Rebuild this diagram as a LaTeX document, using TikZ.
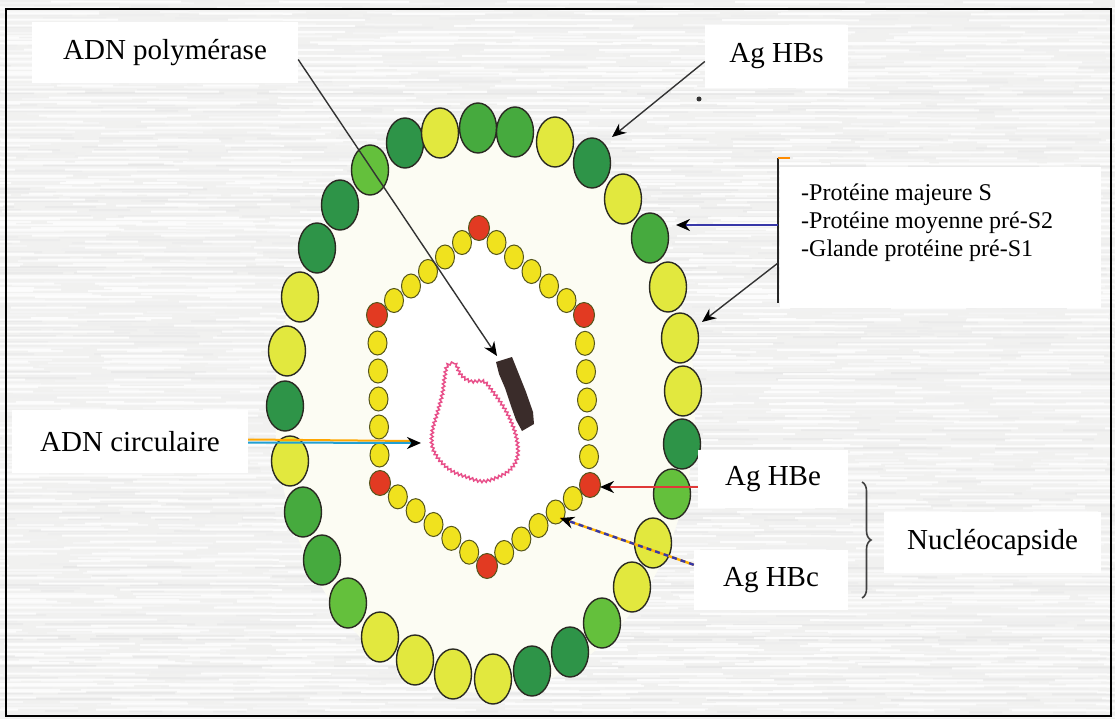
\documentclass[tikz,border=0pt]{standalone}
\usepackage{fontspec}
\setmainfont{Liberation Serif}
\usetikzlibrary{calc,arrows.meta,decorations.pathmorphing,decorations.pathreplacing}

% envelope (outer ring) bead colours
\definecolor{obY}{HTML}{E2E83E}
\definecolor{obD}{HTML}{2E9448}
\definecolor{obG}{HTML}{46AA3E}
\definecolor{obL}{HTML}{64C03C}
\definecolor{beadEdge}{HTML}{2A2A22}
% capsid (hexagon) bead colours
\definecolor{cpY}{HTML}{F0E21E}
\definecolor{cpR}{HTML}{E23A22}
\definecolor{paper}{HTML}{F1F1F0}
\definecolor{streak}{HTML}{E2E2E2}
\definecolor{cream}{HTML}{FCFCF3}
\definecolor{dnaPink}{HTML}{E8508A}
\definecolor{polBrown}{HTML}{3A2C2A}
\definecolor{arrBlue}{HTML}{3838A8}
\definecolor{arrRed}{HTML}{E03838}

\begin{document}
\begin{tikzpicture}[x=1pt,y=-1pt,
  lbl/.style={fill=white, inner sep=0pt, font=\rmfamily\fontsize{29}{34}\selectfont},
  obead/.style={draw=beadEdge, line width=1.4pt},
  cbead/.style={draw=beadEdge!80!yellow, line width=1pt},
  tip/.style={-{Stealth[length=14pt,width=12pt,color=black]}},
  lead/.style={line width=1.4pt, draw=black!80}]

\useasboundingbox (0,0) rectangle (1115,719);

% light textured paper background
\fill[paper] (0,0) rectangle (1115,719);
\pgfmathsetseed{11}
\foreach \i in {0,...,239} {
  \pgfmathsetmacro\yy{\i*3}
  \pgfmathsetmacro\sh{random(20,90)}
  \pgfmathsetmacro\on{random(30,160)}
  \pgfmathsetmacro\off{random(10,70)}
  \pgfmathsetmacro\ph{random(0,150)}
  \draw[line width=2pt, white!\sh!streak, dash pattern=on \on pt off \off pt, dash phase=\ph pt]
    (0,\yy) -- (1115,\yy+1.5);
}
\foreach \i in {0,...,119} {
  \pgfmathsetmacro\yy{\i*6+1.5}
  \pgfmathsetmacro\on{random(40,200)}
  \pgfmathsetmacro\off{random(30,120)}
  \pgfmathsetmacro\ph{random(0,200)}
  \draw[line width=2pt, white, opacity=0.8, dash pattern=on \on pt off \off pt, dash phase=\ph pt]
    (0,\yy) -- (1115,\yy+1);
}

% virion interior
\fill[cream] (485,408) ellipse [x radius=210, y radius=285];

% capsid vertices
\coordinate (V1) at (479,228);
\coordinate (V2) at (584,315);
\coordinate (V3) at (590,485);
\coordinate (V4) at (487,566);
\coordinate (V5) at (380,483);
\coordinate (V6) at (377,315);
\fill[white] (V1) -- (V2) -- (V3) -- (V4) -- (V5) -- (V6) -- cycle;

% envelope beads, clockwise from the left
\foreach \x/\y/\c in {
  290/461/Y, 285/406/D, 287/351/Y, 300/297/Y, 317/248/D, 340/205/D,
  370/170/L, 405/143/D, 440/133/Y, 478/128/G, 515/132/G, 555/142/Y,
  592/163/D, 623/199/Y, 650/238/G, 668/287/Y, 680/338/Y, 683/391/Y,
  682/444/D, 672/494/L, 653/543/Y, 632/587/Y, 602/623/L, 570/652/D,
  532/671/D, 493/679/Y, 453/674/Y, 415/660/Y, 380/637/Y, 348/603/L,
  322/560/G, 303/512/G}
  \draw[obead, fill=ob\c] (\x,\y) ellipse [x radius=18.5, y radius=25];

% capsid beads: five yellow between red corners
\foreach \a/\b in {V1/V2, V2/V3, V3/V4, V4/V5, V5/V6, V6/V1}
  \foreach \t in {1,...,5}
    \draw[cbead, fill=cpY] ($(\a)!\t/6!(\b)$) ellipse [x radius=9.5, y radius=12];
\foreach \v in {V1,V2,V3,V4,V5,V6}
  \draw[cbead, fill=cpR] (\v) ellipse [x radius=10.5, y radius=12.5];

% circular DNA
\draw[dnaPink, line width=1.5pt, decorate,
      decoration={snake, amplitude=1.3pt, segment length=4pt}]
  plot[smooth cycle, tension=0.6] coordinates {
    (447,365) (455,364) (460,374) (470,381) (483,381) (492,391) (502,405)
    (510,420) (516,438) (517,456) (510,469) (497,477) (482,481) (467,477)
    (452,471) (440,461) (432,447) (432,430) (437,412) (442,393) (444,378)};

% DNA polymerase
\fill[polBrown] (496,362) -- (512,357) -- (518,372) -- (526,392) -- (533,412)
  -- (534,424) -- (522,431) -- (516,420) -- (511,406) -- (505,388) -- (499,374) -- cycle;

% labels
\node[lbl, minimum width=266, minimum height=61] (polbox) at (165,52.5) {ADN polymérase};
\node[lbl, minimum width=143, minimum height=63] (hbsbox) at (776.5,56.5) {Ag HBs};
\node[fill=white, minimum width=321, minimum height=141, inner sep=0pt] (protbox) at (940.5,237.5) {};
\node[anchor=west, inner sep=0pt, align=left, font=\rmfamily\fontsize{24}{27.8}\selectfont]
  (prottext) at (801,223) {-Protéine majeure S\\-Protéine moyenne pré-S2\\-Glande protéine pré-S1};
\node[lbl, minimum width=236, minimum height=63] (circbox) at (130,441.5) {ADN circulaire};
\node[lbl, minimum width=150, minimum height=58] (hbebox) at (773,479) {Ag HBe};
\node[lbl, minimum width=154, minimum height=60] (hbcbox) at (771,580) {Ag HBc};
\node[lbl, minimum width=217, minimum height=61] (nucbox) at (992.5,542.5) {Nucléocapside};

% arrow targets and bracket points
\coordinate (polTip) at (497,356);
\coordinate (hbsTip) at (612,137);
\coordinate (brTop) at (778,158);
\coordinate (brMid) at (778,225);
\coordinate (brLow) at (778,263);
\coordinate (brBot) at (778,303);
\coordinate (blueTip) at (676,225);
\coordinate (lowTip) at (702,322);
\coordinate (dnaTip) at (421,443);
\coordinate (hbeTip) at (600,487);
\coordinate (hbcTip) at (560,518);
\coordinate (bTop) at (862,482);
\coordinate (bBot) at (862,598);
\fill[black!80] (699,99) circle [radius=2.5];

% connectors
\draw[lead, tip] ([yshift=-7pt]polbox.east) -- (polTip);
\draw[lead, tip] ([yshift=-5pt]hbsbox.west) -- (hbsTip);
\draw[line width=1.8pt, black!85] (brTop) -- (brBot);
\draw[line width=2pt, orange!90!yellow] (brTop) -- ++(12,0);
\draw[line width=2.6pt, arrBlue, tip] (brMid) -- (blueTip);
\draw[lead, tip] (brLow) -- (lowTip);
\draw[line width=2pt, orange!70!yellow] ([yshift=2pt]circbox.east) -- ([xshift=-8pt,yshift=2pt]dnaTip);
\draw[line width=2pt, cyan!70!teal, tip] ([yshift=-1pt]circbox.east) -- (dnaTip);
\draw[line width=2.2pt, arrRed, tip] ([yshift=-8pt]hbebox.west) -- (hbeTip);
\draw[line width=2.4pt, orange!60!yellow] ([yshift=-15pt]hbcbox.north west) -- (hbcTip);
\draw[line width=2.4pt, arrBlue, dash pattern=on 5pt off 4pt, tip] ([yshift=-15pt]hbcbox.north west) -- (hbcTip);
\draw[line width=1.6pt, black!75, decorate, decoration={brace, amplitude=9pt}] (bTop) -- (bBot);

% frame
\draw[line width=2.5pt] (6,9) rectangle (1111,716);
\end{tikzpicture}
\end{document}
